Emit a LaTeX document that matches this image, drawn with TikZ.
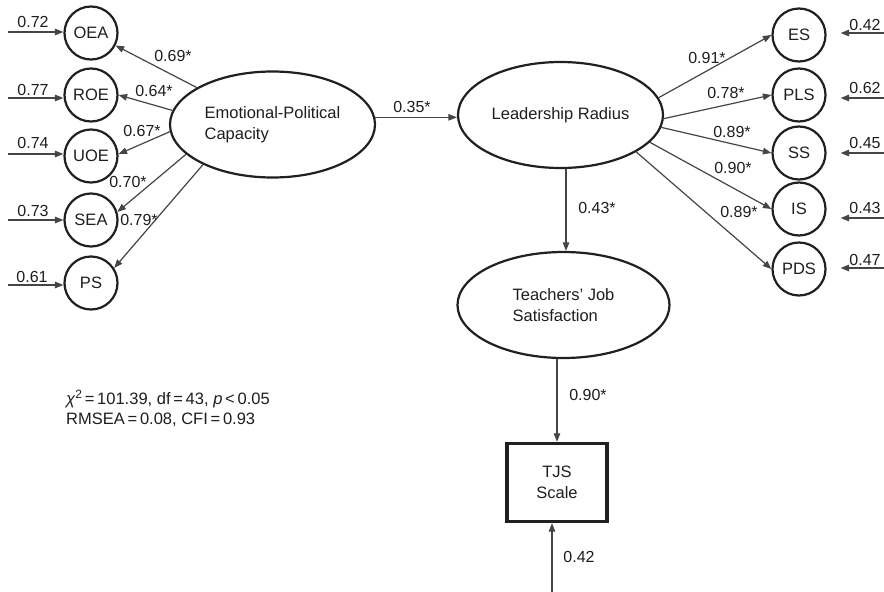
\documentclass[tikz,border=0pt]{standalone}
\usepackage{fontspec}
\setmainfont{Liberation Sans}
\usetikzlibrary{arrows.meta,shapes.geometric,calc}
\definecolor{txt}{HTML}{1E1E1E}
\definecolor{outl}{HTML}{202020}
\definecolor{arrc}{HTML}{454545}
\begin{document}
\begin{tikzpicture}[x=1pt,y=-1pt,
  every node/.style={text=txt, inner sep=0pt},
  lat/.style={ellipse, draw=outl, line width=2.2pt, minimum width=205pt, minimum height=106pt,
              font=\fontsize{16.5}{21}\selectfont, align=left},
  ind/.style={circle, draw=outl, line width=2.2pt, minimum size=53pt,
              font=\fontsize{16.5}{20}\selectfont},
  arr/.style={draw=arrc, line width=1.2pt, -{Triangle[length=8.5pt,width=6.5pt]}},
  lab/.style={font=\fontsize{16}{19}\selectfont}
]
\fill[white] (0,0) rectangle (884,592);
\useasboundingbox (0,0) rectangle (884,592);

% latent variables
\node[lat] (EPC) at (272.5,124.5) {Emotional-Political\\Capacity};
\node[lat] (LR) at (560.5,115) {Leadership Radius};
\node[lat, minimum width=212pt] (TJS) at (563.5,305) {Teachers’ Job\\Satisfaction};
\node[draw=outl, line width=3.4pt, minimum width=100pt, minimum height=78pt, align=center,
      font=\fontsize{16.5}{21}\selectfont] (BOX) at (557,482.5) {TJS\\Scale};

% left indicators
\node[ind] (OEA) at (91,33) {OEA};
\node[ind] (ROE) at (91,95) {ROE};
\node[ind] (UOE) at (91,156) {UOE};
\node[ind] (SEA) at (91,220) {SEA};
\node[ind] (PS)  at (91,283) {PS};

% right indicators
\node[ind] (ES)  at (799,35) {ES};
\node[ind] (PLS) at (799,95) {PLS};
\node[ind] (SS)  at (799,153) {SS};
\node[ind] (IS)  at (799,209) {IS};
\node[ind] (PDS) at (799,269) {PDS};

% error coordinates
\coordinate (eOEA) at (8,32);
\coordinate (eROE) at (8,98);
\coordinate (eUOE) at (8,154);
\coordinate (eSEA) at (8,220);
\coordinate (ePS)  at (8,285);
\coordinate (eES)  at (884,33);
\coordinate (ePLS) at (884,98);
\coordinate (eSS)  at (884,153);
\coordinate (eIS)  at (884,218);
\coordinate (ePDS) at (884,268);
\coordinate (eBOX) at (552,592);
\coordinate (vx) at (566,0);

% error arrows
\draw[arr] (eOEA) -- (eOEA -| OEA.west);
\draw[arr] (eROE) -- (eROE -| ROE.west);
\draw[arr] (eUOE) -- (eUOE -| UOE.west);
\draw[arr] (eSEA) -- (eSEA -| SEA.west);
\draw[arr] (ePS)  -- (ePS -| PS.west);
\draw[arr, shorten >=14pt] (eES)  -- (eES -| ES.east);
\draw[arr, shorten >=14pt] (ePLS) -- (ePLS -| PLS.east);
\draw[arr, shorten >=14pt] (eSS)  -- (eSS -| SS.east);
\draw[arr, shorten >=14pt] (eIS)  -- (eIS -| IS.east);
\draw[arr, shorten >=14pt] (ePDS) -- (ePDS -| PDS.east);
\draw[arr] (eBOX) -- (eBOX |- BOX.south);

% loadings
\draw[arr] (EPC.154) -- (OEA.-27);
\draw[arr] (EPC.172) -- (ROE.0);
\draw[arr] (EPC.184) -- (UOE.4);
\draw[arr] (EPC.199) -- (SEA.17);
\draw[arr] (EPC.210) -- (PS.33);
\draw[arr] (LR.10) -- (ES.west);
\draw[arr] (LR.358) -- (PLS.west);
\draw[arr] (LR.353) -- (SS.west);
\draw[arr] (LR.343) -- (IS.west);
\draw[arr] (LR.334) -- (PDS.west);

% structural paths
\draw[arr] (EPC.4) -- (LR.west |- EPC.4);
\draw[arr] (LR.south -| vx) -- (TJS.north -| vx);
\draw[arr] (TJS.south -| BOX.north) -- (BOX.north);

% labels
\node[lab] at (412,107) {0.35*};
\node[lab] at (597,208) {0.43*};
\node[lab] at (588,395) {0.90*};
\node[lab] at (579,557) {0.42};

\node[lab] at (173,56) {0.69*};
\node[lab] at (154,91) {0.64*};
\node[lab] at (142,131) {0.67*};
\node[lab] at (128,182) {0.70*};
\node[lab] at (139,220) {0.79*};

\node[lab] at (707,58) {0.91*};
\node[lab] at (726,93) {0.78*};
\node[lab] at (732,132) {0.89*};
\node[lab] at (733,168) {0.90*};
\node[lab] at (739,212) {0.89*};

\node[lab] at (33,22) {0.72};
\node[lab] at (33,90) {0.77};
\node[lab] at (33,143) {0.74};
\node[lab] at (33,211) {0.73};
\node[lab] at (32,277) {0.61};

\node[lab] at (865,25) {0.42};
\node[lab] at (865,88) {0.62};
\node[lab] at (865,143) {0.45};
\node[lab] at (865,208) {0.43};
\node[lab] at (865,260) {0.47};

% fit statistics
\node[anchor=west, align=left, font=\fontsize{16.5}{20}\selectfont] (fit) at (66,408)
  {\textit{χ}{\fontsize{12}{12}\selectfont\raisebox{6pt}{2}}\,=\,101.39, df\,=\,43, \textit{p}\,<\,0.05\\RMSEA\,=\,0.08, CFI\,=\,0.93};
\end{tikzpicture}
\end{document}
